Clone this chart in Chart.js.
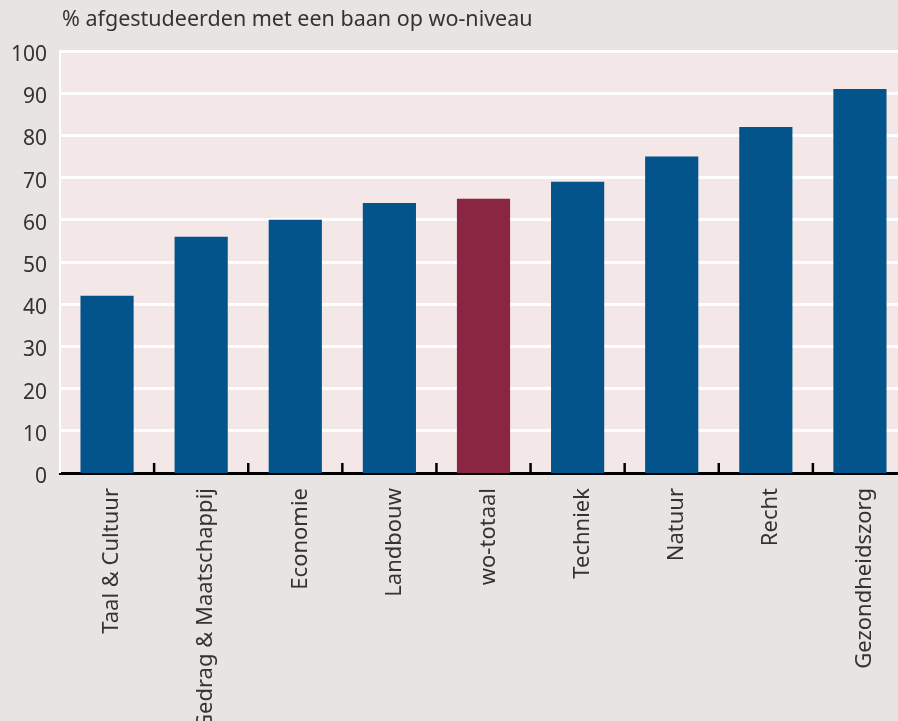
<!DOCTYPE html>
<html lang="nl">
<head>
  <meta charset="UTF-8">
  <title>Afgestudeerden met een baan op wo-niveau</title>
  <script src="https://cdn.jsdelivr.net/npm/chart.js"></script>
  <style>
    html, body {
      margin: 0;
      padding: 0;
      background-color: #e8e4e1;
      overflow: hidden;
    }
    #wrap {
      width: 898px;
      height: 721px;
      overflow: hidden;
    }
  </style>
</head>
<body>

<div id="wrap">
  <canvas id="grafiek" width="907" height="721"></canvas>
</div>

<script>
  var studies = ['Taal & Cultuur', 'Gedrag & Maatschappij', 'Economie', 'Landbouw', 'wo-totaal',
                 'Techniek', 'Natuur', 'Recht', 'Gezondheidszorg'];
  var percentages = [42, 56, 60, 64, 65, 69, 75, 82, 91];
  var yTicks = [0, 10, 20, 30, 40, 50, 60, 70, 80, 90, 100];
  var titel = '% afgestudeerden met een baan op wo-niveau';

  var blauw = '#02548b';
  var rood = '#8a2642';

  var kleuren = studies.map(function (s) {
    return s === 'wo-totaal' ? rood : blauw;
  });

  // roze achtergrond van het plotgebied + titel + streepjes op de x-as
  var extra = {
    id: 'extra',
    beforeDraw: function (chart) {
      var ctx = chart.ctx;
      var a = chart.chartArea;
      ctx.save();
      ctx.fillStyle = '#f3e7e7';
      ctx.fillRect(a.left, a.top, a.right - a.left, a.bottom - a.top);
      ctx.fillStyle = '#333';
      ctx.font = '21.5px "Noto Sans"';
      ctx.textBaseline = 'middle';
      ctx.fillText(titel, a.left + 2, 20);
      ctx.restore();
    },
    afterDatasetsDraw: function (chart) {
      var ctx = chart.ctx;
      var x = chart.scales.x;
      var a = chart.chartArea;
      ctx.save();
      ctx.strokeStyle = '#000';
      ctx.lineWidth = 2.5;
      for (var i = 0; i < studies.length - 1; i++) {
        var px = (x.getPixelForValue(i) + x.getPixelForValue(i + 1)) / 2;
        ctx.beginPath();
        ctx.moveTo(px, a.bottom);
        ctx.lineTo(px, a.bottom - 10);
        ctx.stroke();
      }
      ctx.restore();
    }
  };

  var ctx = document.getElementById('grafiek').getContext('2d');

  var grafiek = new Chart(ctx, {
    type: 'bar',
    data: {
      labels: studies,
      datasets: [{
        data: percentages,
        backgroundColor: kleuren,
        categoryPercentage: 1,
        barPercentage: 0.565
      }]
    },
    options: {
      responsive: false,
      animation: false,
      layout: {
        padding: { top: 51, right: 0, left: 0, bottom: 0 }
      },
      plugins: {
        legend: { display: false },
        tooltip: { enabled: false }
      },
      scales: {
        x: {
          grid: { display: false },
          border: { display: true, color: '#000', width: 3 },
          ticks: {
            color: '#333',
            font: { family: 'Noto Sans', size: 22 },
            minRotation: 90,
            maxRotation: 90,
            autoSkip: false,
            padding: 7,
            labelOffset: 5
          },
          afterFit: function (scale) {
            scale.height = 248;
          }
        },
        y: {
          min: 0,
          max: 100,
          afterBuildTicks: function (scale) {
            scale.ticks = yTicks.map(function (v) { return { value: v }; });
          },
          grid: {
            color: '#ffffff',
            lineWidth: function (c) { return c.tick.value === 0 ? 0 : 3; },
            drawTicks: false
          },
          border: { display: true, color: '#ffffff', width: 2 },
          ticks: {
            color: '#333',
            font: { family: 'Noto Sans', size: 21 },
            padding: 13,
            labelOffset: 4
          },
          afterFit: function (scale) {
            scale.width = 60;
          }
        }
      }
    },
    plugins: [extra]
  });
</script>

</body>
</html>
